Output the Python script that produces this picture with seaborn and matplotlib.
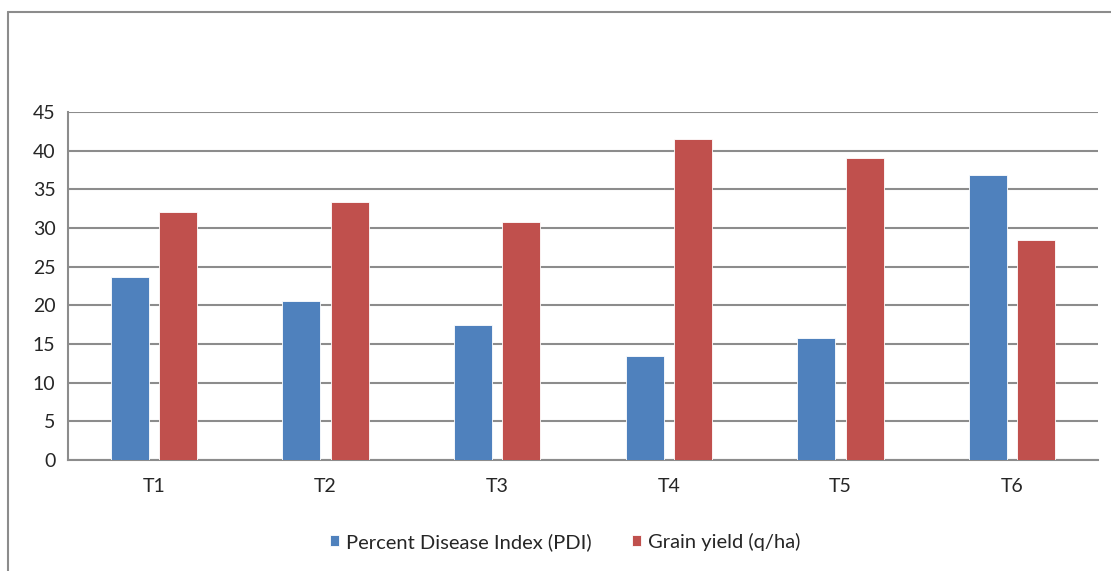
import pandas as pd
import matplotlib.pyplot as plt
import matplotlib.lines as mlines
import seaborn as sns

treatments = ['T1', 'T2', 'T3', 'T4', 'T5', 'T6']
pdi = [23.6, 20.5, 17.4, 13.5, 15.8, 36.8]
grain_yield = [32.1, 33.4, 30.8, 41.5, 39.1, 28.5]
series_names = ['Percent Disease Index (PDI)', 'Grain yield (q/ha)']
y_ticks = [0, 5, 10, 15, 20, 25, 30, 35, 40, 45]

df = pd.DataFrame({
    'Treatment': treatments * 2,
    'Value': pdi + grain_yield,
    'Series': [series_names[0]] * len(treatments) + [series_names[1]] * len(treatments),
})

sns.set_style('white')
plt.rcParams['font.family'] = ['Lato', 'DejaVu Sans']

fig = plt.figure(figsize=(11.11, 5.71), dpi=100)
ax = fig.add_axes([68 / 1111, 1 - 460 / 571, (1098 - 68) / 1111, (460 - 112) / 571])

sns.barplot(data=df, x='Treatment', y='Value', hue='Series', ax=ax,
            palette=['#4F81BD', '#C0504D'], saturation=1, width=0.56, gap=0.21,
            edgecolor='white', linewidth=0.6, zorder=3)

ax.set_ylim(0, 45)
ax.set_xlim(-0.5, 5.5)
ax.set_yticks(y_ticks)
ax.set_yticklabels([str(t) for t in y_ticks], fontsize=14, color='#262626')
ax.tick_params(axis='x', labelsize=14, colors='#262626', length=0, pad=13)
ax.tick_params(axis='y', length=0, pad=9)
ax.set_xlabel('')
ax.set_ylabel('')

ax.yaxis.grid(True, color='#8c8c8c', linewidth=1.5, zorder=0)
ax.set_axisbelow(True)
for side in ['top', 'right']:
    ax.spines[side].set_visible(False)
for side in ['left', 'bottom']:
    ax.spines[side].set_color('#8c8c8c')
    ax.spines[side].set_linewidth(1.5)

ax.legend(loc='center', bbox_to_anchor=(0.483, -0.235), ncol=2, frameon=False,
          fontsize=14.5, handlelength=0.45, handleheight=0.45, handletextpad=0.35,
          columnspacing=2.0)

# outer chart border (left and top edges visible in crop)
fig.add_artist(mlines.Line2D([8 / 1111, 8 / 1111], [0, 1 - 12 / 571],
                             color='#8c8c8c', linewidth=1.5, transform=fig.transFigure))
fig.add_artist(mlines.Line2D([8 / 1111, 1], [1 - 12 / 571, 1 - 12 / 571],
                             color='#8c8c8c', linewidth=1.5, transform=fig.transFigure))

fig.savefig('out.png', dpi=100)
